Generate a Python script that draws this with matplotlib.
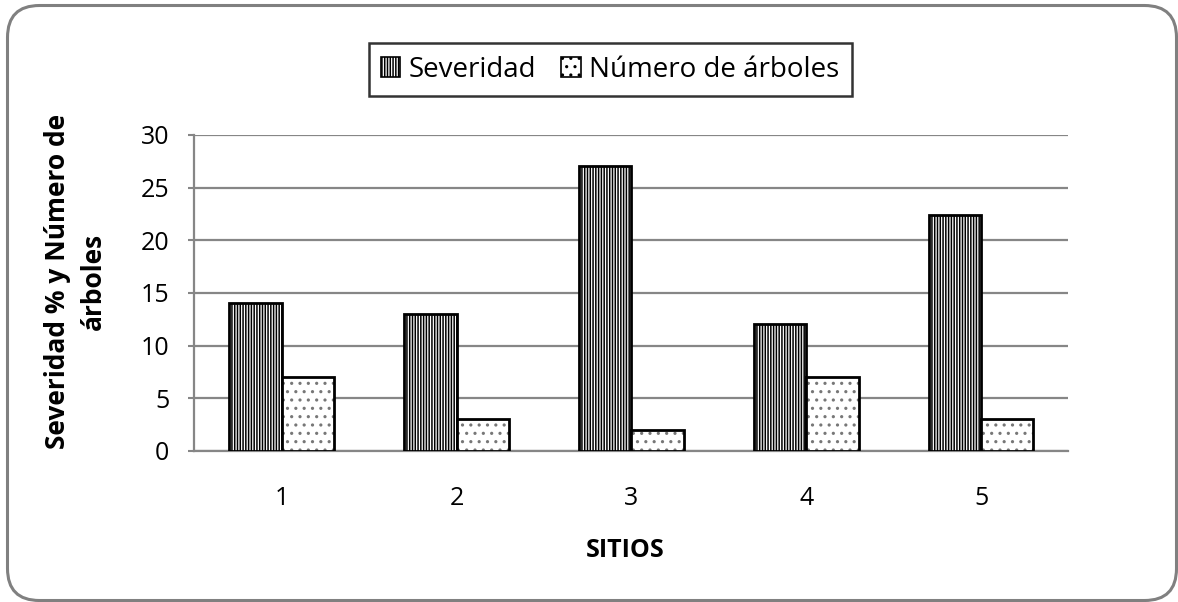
import numpy as np
import matplotlib.pyplot as plt
from matplotlib.patches import FancyBboxPatch

plt.rcParams['font.family'] = ['Open Sans', 'DejaVu Sans']
plt.rcParams['hatch.linewidth'] = 1.1

sitios = ['1', '2', '3', '4', '5']
severidad = [14, 13, 27, 12, 22.4]
num_arboles = [7, 3, 2, 7, 3]

fig = plt.figure(figsize=(11.78, 6.02), dpi=100)
ax = fig.add_axes([0.165, 0.251, 0.742, 0.525])

# rounded outer frame (inches)
frame = FancyBboxPatch((0.075, 0.015), 11.69, 5.95, boxstyle='round,pad=0,rounding_size=0.32',
                       transform=fig.dpi_scale_trans, facecolor='white', edgecolor='#808080',
                       linewidth=2.2, zorder=-10)
fig.patches.append(frame)

x = np.arange(len(sitios))
w = 0.3
b1 = ax.bar(x - w / 2, severidad, w, facecolor='white', edgecolor='black', hatch='||||||',
            linewidth=2, label='Severidad', zorder=3)
# dotted fill in gray, outline drawn on top in black
ax.bar(x + w / 2, num_arboles, w, facecolor='white', edgecolor='#777777', hatch='..',
       linewidth=0, zorder=3)
b2 = ax.bar(x + w / 2, num_arboles, w, facecolor='none', edgecolor='black',
            linewidth=2, zorder=4)

ax.set_xlim(-0.5, len(sitios) - 0.5)
ax.set_ylim(0, 30)
ax.set_yticks(range(0, 31, 5))
ax.set_xticks(x)
ax.set_xticklabels(sitios)
ax.tick_params(axis='both', labelsize=18, colors='#000000')
ax.tick_params(axis='y', length=4, color='#868686', width=1.5, pad=14)
ax.tick_params(axis='x', length=0, pad=25)
ax.yaxis.grid(True, color='#868686', linewidth=1.6, zorder=0)
ax.set_axisbelow(True)
for s in ['top', 'right']:
    ax.spines[s].set_visible(False)
for s in ['left', 'bottom']:
    ax.spines[s].set_color('#868686')
    ax.spines[s].set_linewidth(1.6)

fig.text(0.531, 0.085, 'SITIOS', ha='center', va='center', fontsize=18, fontweight='bold')
fig.text(0.064, 0.532, 'Severidad % y Número de\nárboles', ha='center', va='center',
         rotation=90, fontsize=19, fontweight='bold', linespacing=1.45)

fill_handle = plt.Rectangle((0, 0), 1, 1, facecolor='white', edgecolor='black', hatch='..', linewidth=1.2)
sev_handle = plt.Rectangle((0, 0), 1, 1, facecolor='white', edgecolor='black', hatch='||||||', linewidth=1.2)
leg = fig.legend(handles=[sev_handle, fill_handle], labels=['Severidad', 'Número de árboles'],
                 loc='center', bbox_to_anchor=(0.518, 0.884), ncol=2,
                 fontsize=20, frameon=True, fancybox=False, edgecolor='black',
                 handlelength=0.7, handleheight=0.7, handletextpad=0.3, columnspacing=0.9,
                 borderpad=0.45)
leg.get_frame().set_linewidth(1.8)

fig.savefig('out.png', dpi=100)
